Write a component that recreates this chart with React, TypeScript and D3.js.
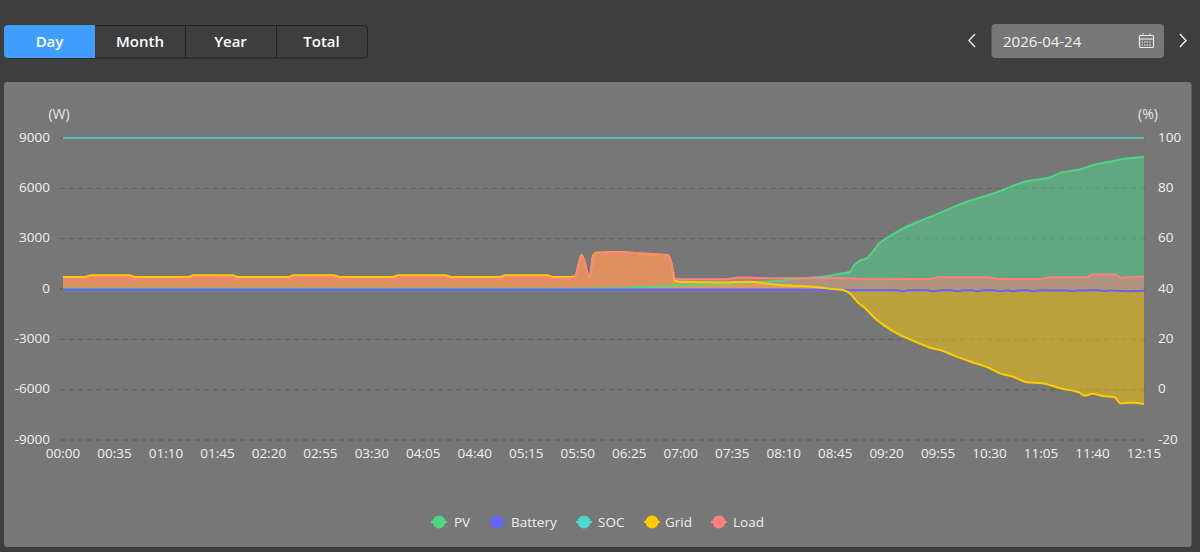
import React from 'react';
import * as d3 from 'd3';

const tabs = ['Day', 'Month', 'Year', 'Total'];
const tabCenters = [49.5, 140, 230.5, 321.5];
const tabDividers = [185, 276];
const dateLabel = '2026-04-24';
const xLabels = ['00:00','00:35','01:10','01:45','02:20','02:55','03:30','04:05','04:40','05:15','05:50','06:25','07:00','07:35','08:10','08:45','09:20','09:55','10:30','11:05','11:40','12:15'];
const leftTicks = [9000, 6000, 3000, 0, -3000, -6000, -9000];
const rightTicks = [100, 80, 60, 40, 20, 0, -20];

const pvTimes = [0, 340, 380, 420, 455, 487, 510, 521, 528, 535, 538, 542, 546.5, 555.5, 564.6, 573.7, 591.8, 614.5, 632.6, 655.3, 671.2, 679, 689.3, 704, 712, 721, 735];
const pvValues = [20, 20, 60, 240, 340, 490, 690, 770, 910, 1010, 1430, 1690, 1830, 2760, 3280, 3710, 4370, 5200, 5700, 6420, 6660, 6950, 7090, 7470, 7590, 7750, 7870];

const batteryTimes = [0, 500, 535, 560, 567, 571, 575, 588, 592, 596, 604, 608, 612, 618, 622, 626, 633, 637, 641, 643, 646, 650, 656, 660, 664, 682, 686, 690, 704, 708, 712, 722, 735];
const batteryValues = [-30, -30, -70, -80, -80, -140, -80, -80, -140, -80, -80, -140, -80, -80, -140, -80, -80, -140, -90, -90, -140, -80, -80, -140, -80, -90, -130, -90, -80, -130, -90, -130, -110];

const socTimes = [0, 735];
const socValues = [100, 100];

const gridTimes = [0, 15, 19, 45, 49, 85, 89, 115, 119, 153, 157, 184, 188, 224, 228, 260, 264, 297, 301, 329, 333, 345, 348, 352.7, 358, 360.6, 363, 376.5, 397, 411.5, 414, 416, 420, 450, 465, 487, 510, 521, 530, 535, 541, 545, 551, 558, 569, 580.5, 589.5, 596.3, 607.7, 621.3, 630.3, 637, 646, 655.3, 665.5, 671, 678, 691, 695, 700, 707, 715, 719, 727, 735];
const gridValues = [715, 715, 815, 815, 715, 715, 815, 815, 715, 715, 815, 815, 715, 715, 815, 815, 715, 715, 815, 815, 715, 720, 760, 2030, 700, 2030, 2160, 2200, 2090, 2000, 1430, 490, 430, 390, 430, 240, 140, 20, -60, -260, -850, -1110, -1650, -2150, -2740, -3180, -3500, -3640, -4030, -4450, -4730, -5030, -5230, -5560, -5620, -5720, -5920, -6180, -6360, -6240, -6380, -6450, -6810, -6780, -6850];

const loadTimes = [0, 15, 19, 45, 49, 85, 89, 115, 119, 153, 157, 184, 188, 224, 228, 260, 264, 297, 301, 329, 333, 345, 348, 352.7, 358, 360.6, 363, 376.5, 397, 411.5, 414, 416, 420, 450, 460, 487, 510, 535, 545, 590, 595, 628, 636, 665, 672, 696, 700, 715, 720, 726, 735];
const loadValues = [580, 580, 680, 680, 580, 580, 680, 680, 580, 580, 680, 680, 580, 580, 680, 680, 580, 580, 680, 680, 600, 620, 680, 1980, 660, 1980, 2110, 2170, 2110, 1970, 1400, 620, 580, 580, 680, 640, 650, 640, 580, 590, 700, 700, 600, 600, 700, 700, 860, 860, 640, 730, 730];

const colors = { PV: '#4cd787', Battery: '#6464ff', SOC: '#4cd8cf', Grid: '#ffcc00', Load: '#ff8080' };
const legendItems: [keyof typeof colors, number, number][] = [['PV', 439, 454], ['Battery', 497, 511], ['SOC', 584, 598], ['Grid', 652, 665], ['Load', 719, 733]];

const FONT = '"Open Sans", "Noto Sans", sans-serif';
const x = d3.scaleLinear().domain([0, 735]).range([63, 1144]);
const yL = d3.scaleLinear().domain([-9000, 9000]).range([440, 138]);
const yR = d3.scaleLinear().domain([-20, 100]).range([440, 138]);

function zip(t: number[], v: number[]) {
  return t.map((m, i) => [m, v[i]] as [number, number]);
}
const curve = d3.curveMonotoneX;
function linePath(t: number[], v: number[], y: d3.ScaleLinear<number, number>) {
  return d3.line<[number, number]>().x(d => x(d[0])).y(d => y(d[1])).curve(curve)(zip(t, v)) || '';
}
function areaPath(t: number[], v: number[]) {
  return d3.area<[number, number]>().x(d => x(d[0])).y0(yL(0)).y1(d => yL(d[1])).curve(curve)(zip(t, v)) || '';
}

const areaSeries = [
  { name: 'PV', t: pvTimes, v: pvValues, c: colors.PV },
  { name: 'Battery', t: batteryTimes, v: batteryValues, c: colors.Battery },
  { name: 'Grid', t: gridTimes, v: gridValues, c: colors.Grid },
  { name: 'Load', t: loadTimes, v: loadValues, c: colors.Load },
];

export default function App() {
  return (
    <svg width={1200} height={552} viewBox="0 0 1200 552" style={{ position: 'absolute', left: 0, top: 0, display: 'block', fontFamily: FONT }}>
      <rect width={1200} height={552} fill="#3e3e3e" />

      {/* tabs */}
      <rect x={4.5} y={25.5} width={363} height={32.5} rx={4} fill="#3e3e3e" stroke="#222" strokeWidth={1} />
      <path d="M95 25 H8 a4 4 0 0 0 -4 4 V54 a4 4 0 0 0 4 4 H95 Z" fill="#409eff" />
      {tabDividers.map(d => (
        <line key={d} x1={d + 0.5} x2={d + 0.5} y1={25} y2={58} stroke="#222" strokeWidth={1} />
      ))}
      {tabs.map((t, i) => (
        <text key={t} x={tabCenters[i]} y={47} textAnchor="middle" fontSize={15} fontWeight={600} fill="#fff">{t}</text>
      ))}

      {/* date */}
      <path d="M975 34 L969 40.5 L975 47" fill="none" stroke="#eee" strokeWidth={1.4} />
      <path d="M1180 34 L1186 40.5 L1180 47" fill="none" stroke="#eee" strokeWidth={1.4} />
      <rect x={991.5} y={24} width={172.5} height={34} rx={4} fill="#777" />
      <text x={1003} y={47} fontSize={15} fill="#f2f2f2">{dateLabel}</text>
      <g fill="none" stroke="#eee" strokeWidth={1.1}>
        <rect x={1139.5} y={35.5} width={14} height={12} rx={1} />
        <line x1={1139.5} x2={1153.5} y1={39} y2={39} />
        <line x1={1143} x2={1143} y1={33.5} y2={36} />
        <line x1={1150} x2={1150} y1={33.5} y2={36} />
        <line x1={1141.5} x2={1151.5} y1={42} y2={42} strokeDasharray="1.5 1" />
        <line x1={1141.5} x2={1151.5} y1={45} y2={45} strokeDasharray="1.5 1" />
      </g>

      {/* panel */}
      <rect x={4} y={82} width={1187.5} height={465} rx={3} fill="#777" />

      <text x={59} y={119} textAnchor="middle" fontSize={14} fill="#e6e6e6">(W)</text>
      <text x={1148} y={119} textAnchor="middle" fontSize={14} fill="#e6e6e6">(%)</text>

      {leftTicks.map(v => (
        <g key={v}>
          <line x1={60} x2={1147} y1={yL(v)} y2={yL(v)} stroke="#5c5c5c" strokeWidth={1} strokeDasharray="5 4" />
          <text x={50} y={yL(v) + 3.5} textAnchor="end" fontSize={13.5} fill="#f0f0f0">{v}</text>
        </g>
      ))}
      {rightTicks.map(v => (
        <text key={v} x={1158} y={yR(v) + 3.5} fontSize={13.5} fill="#f0f0f0">{v}</text>
      ))}
      {xLabels.map((l, i) => (
        <text key={l} x={x(i * 35)} y={458} textAnchor="middle" fontSize={13.5} fill="#f0f0f0">{l}</text>
      ))}

      {/* series */}
      {areaSeries.map(s => <path key={s.name + 'a'} d={areaPath(s.t, s.v)} fill={s.c} fillOpacity={0.5} />)}
      <path d={linePath(pvTimes, pvValues, yL)} fill="none" stroke={colors.PV} strokeWidth={2} />
      <path d={linePath(batteryTimes, batteryValues, yL)} fill="none" stroke={colors.Battery} strokeWidth={2} />
      <path d={linePath(socTimes, socValues, yR)} fill="none" stroke={colors.SOC} strokeWidth={1.5} />
      <path d={linePath(gridTimes, gridValues, yL)} fill="none" stroke={colors.Grid} strokeWidth={2} />
      <path d={linePath(loadTimes, loadValues, yL)} fill="none" stroke={colors.Load} strokeWidth={2} />

      {/* legend */}
      {legendItems.map(([n, cx, tx]) => (
        <g key={n}>
          <line x1={cx - 8} x2={cx + 8} y1={522} y2={522} stroke={colors[n]} strokeWidth={2} />
          <circle cx={cx} cy={522} r={6.5} fill={colors[n]} />
          <text x={tx} y={527} fontSize={13.5} fill="#f0f0f0">{n}</text>
        </g>
      ))}
    </svg>
  );
}
